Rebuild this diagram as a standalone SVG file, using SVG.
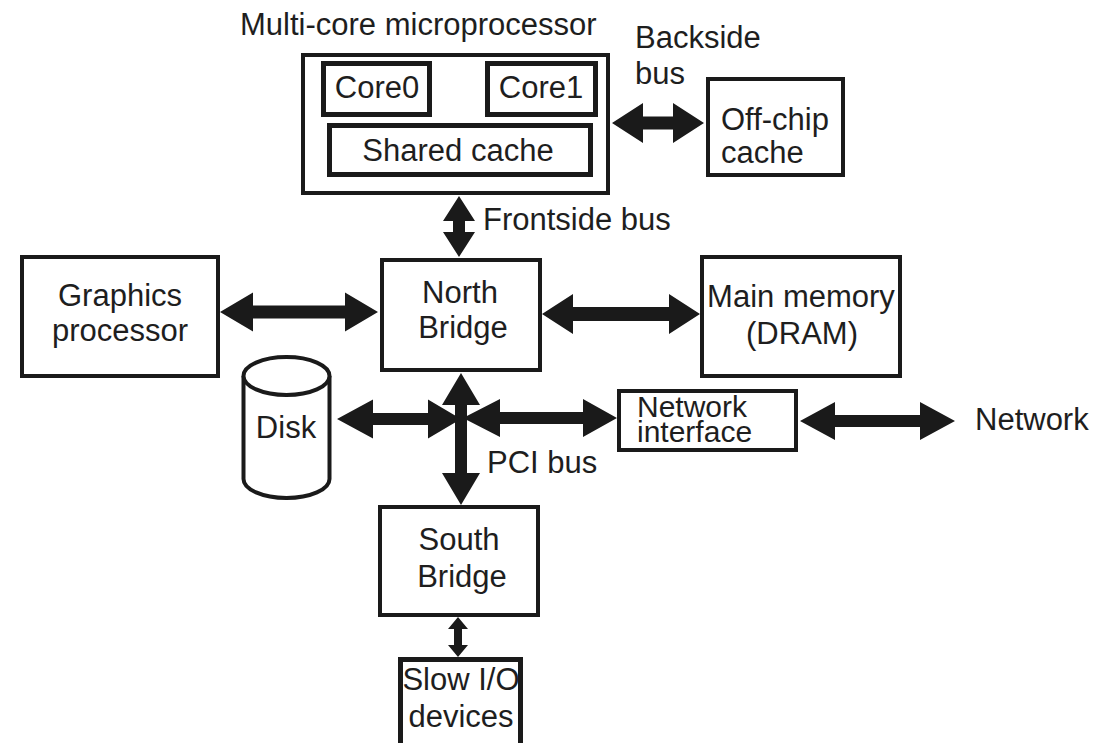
<svg xmlns="http://www.w3.org/2000/svg" width="1112" height="743" viewBox="0 0 1112 743">
<style>
.box{fill:#fff;stroke:#1a1a1a;stroke-width:4}
.tb{fill:#fff;stroke:#1a1a1a;stroke-width:5}
.t{font-family:"Liberation Sans",Arial,sans-serif;font-size:31px;fill:#1e1e1e}
.m{text-anchor:middle}
.ar{fill:#1a1a1a}
</style>
<rect width="1112" height="743" fill="#fff"/>
<g id="connectors">
<polygon class="ar" points="220,312 253,292.5 253,305.5 345,305.5 345,292.5 378,312 345,331.5 345,318.5 253,318.5 253,331.5"/>
<polygon class="ar" points="542,314 573,294 573,307 669,307 669,294 700,314 669,334 669,321 573,321 573,334"/>
<polygon class="ar" points="612,123 643,103 643,116.5 673,116.5 673,103 704,123 673,143 673,129.5 643,129.5 643,143"/>
<polygon class="ar" points="800,421 835,402 835,415 920,415 920,402 955,421 920,440 920,427 835,427 835,440"/>
<polygon class="ar" points="459,196 475,221 465,221 465,232 475,232 459,257 443,232 453,232 453,221 443,221"/>
<polygon class="ar" points="461,373 480,405 467,405 467,473 480,473 461,505 442,473 455,473 455,405 442,405"/>
<polygon class="ar" points="337,419 373,399.5 373,413 428,413 428,399.5 461,419 428,438.5 428,425 373,425 373,438.5"/>
<polygon class="ar" points="463,418 500,399 500,412 583,412 583,399 617,418 583,437 583,424 500,424 500,437"/>
<polygon class="ar" points="458,617 468,629 462,629 462,645 468,645 458,657 448,645 454,645 454,629 448,629"/>
</g>
<g id="multicore">
<text class="t" x="240" y="35">Multi-core microprocessor</text>
<rect class="box" x="303" y="55" width="305" height="138"/>
</g>
<g id="core0">
<rect class="tb" x="323.5" y="63.5" width="106" height="51"/>
<text class="t m" x="377" y="98">Core0</text>
</g>
<g id="core1">
<rect class="tb" x="487.5" y="63.5" width="108" height="51"/>
<text class="t m" x="541" y="98">Core1</text>
</g>
<g id="shared-cache">
<rect class="tb" x="329.5" y="125.5" width="261" height="49"/>
<text class="t m" x="458" y="161">Shared cache</text>
</g>
<g id="backside-label">
<text class="t" x="635" y="48">Backside</text>
<text class="t" x="635" y="84">bus</text>
</g>
<g id="offchip">
<rect class="box" x="708" y="79" width="135" height="96"/>
<text class="t" x="721" y="130">Off-chip</text>
<text class="t" x="721" y="163">cache</text>
</g>
<g id="frontside-label">
<text class="t" x="483" y="230">Frontside bus</text>
</g>
<g id="graphics">
<rect class="box" x="22" y="257" width="196" height="119"/>
<text class="t m" x="120" y="306">Graphics</text>
<text class="t m" x="120" y="341">processor</text>
</g>
<g id="northbridge">
<rect class="box" x="382" y="260" width="158" height="110"/>
<text class="t m" x="460" y="303">North</text>
<text class="t m" x="463" y="338">Bridge</text>
</g>
<g id="mainmemory">
<rect class="box" x="702" y="257" width="198" height="119"/>
<text class="t m" x="801" y="307">Main memory</text>
<text class="t m" x="802" y="344">(DRAM)</text>
</g>
<g id="disk">
<path d="M243.5,376 L243.5,479 A43,19 0 0 0 329.5,479 L329.5,376" fill="#fff" stroke="#1a1a1a" stroke-width="4"/>
<ellipse cx="286.5" cy="376" rx="43" ry="19" fill="#fff" stroke="#1a1a1a" stroke-width="4"/>
<text class="t m" x="286" y="438">Disk</text>
</g>
<g id="pci-label">
<text class="t" x="487" y="473">PCI bus</text>
</g>
<g id="netif">
<rect class="box" x="619" y="391" width="177" height="59"/>
<text class="t" x="637" y="417" style="font-size:30px">Network</text>
<text class="t" x="637" y="442" style="font-size:30px">interface</text>
</g>
<g id="network">
<text class="t" x="975" y="430">Network</text>
</g>
<g id="southbridge">
<rect class="box" x="380" y="507" width="158" height="108"/>
<text class="t m" x="459" y="550">South</text>
<text class="t m" x="462" y="587">Bridge</text>
</g>
<g id="slowio">
<rect class="tb" x="400.5" y="659.5" width="120" height="100"/>
<text class="t m" x="461" y="690">Slow I/O</text>
<text class="t m" x="461" y="727">devices</text>
</g>
</svg>
